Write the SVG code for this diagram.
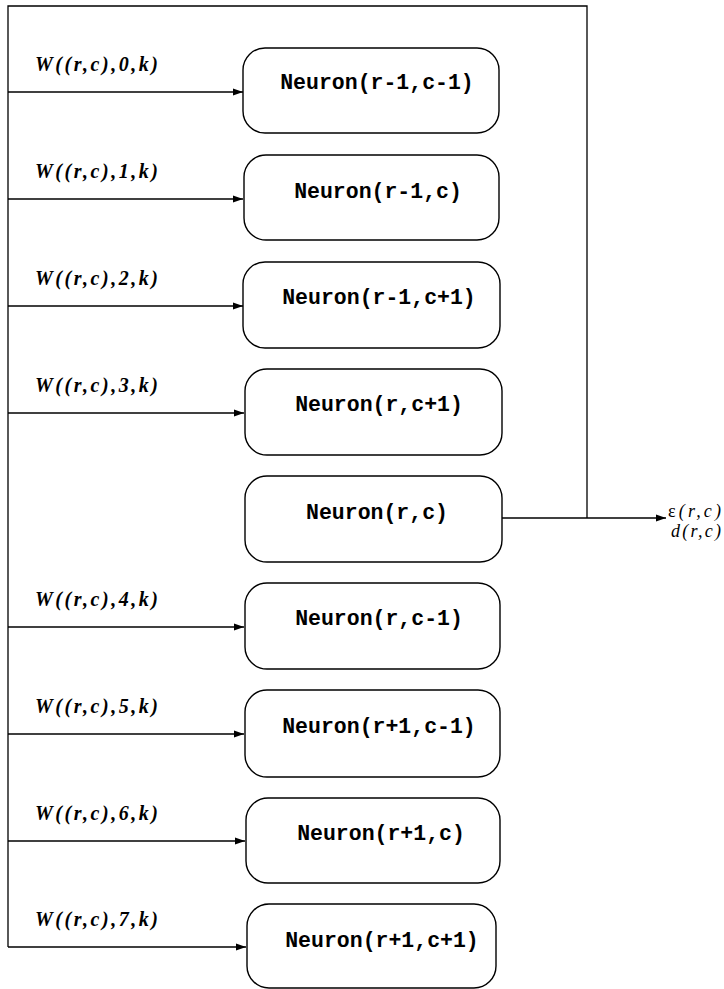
<svg xmlns="http://www.w3.org/2000/svg" width="724" height="989" viewBox="0 0 724 989">
  <style>
    .box { fill: #ffffff; stroke: #000000; stroke-width: 1.4; }
    .name { font-family: "Liberation Mono", "Courier New", monospace; font-weight: bold; font-size: 21.5px; fill: #000000; text-anchor: middle; }
    .wt { font-family: "Liberation Serif", "Times New Roman", serif; font-weight: bold; font-style: italic; font-size: 20px; fill: #000000; }
    .out { font-family: "Liberation Serif", "Times New Roman", serif; font-style: italic; font-size: 18px; fill: #000000; }
    .wire { fill: none; stroke: #000000; stroke-width: 1.3; }
  </style>
  <defs>
    <marker id="arrow" viewBox="0 0 10 8" refX="10" refY="4" markerWidth="10" markerHeight="8" markerUnits="userSpaceOnUse" orient="auto">
      <path d="M0,0.5 L10,4 L0,7.5 Z" fill="#000000"/>
    </marker>
  </defs>
  <rect width="724" height="989" fill="#ffffff"/>

  <!-- feedback bus and weighted inputs -->
  <g id="connectors">
    <path class="wire" d="M587,518 V6 H8 V947"/>
    <path class="wire" d="M8,92 H243" marker-end="url(#arrow)"/>
    <path class="wire" d="M8,199 H243" marker-end="url(#arrow)"/>
    <path class="wire" d="M8,306 H243" marker-end="url(#arrow)"/>
    <path class="wire" d="M8,413 H244" marker-end="url(#arrow)"/>
    <path class="wire" d="M8,627 H244" marker-end="url(#arrow)"/>
    <path class="wire" d="M8,734 H244" marker-end="url(#arrow)"/>
    <path class="wire" d="M8,841 H245" marker-end="url(#arrow)"/>
    <path class="wire" d="M8,947 H246" marker-end="url(#arrow)"/>
    <path class="wire" d="M502,518 H666" marker-end="url(#arrow)"/>
  </g>

  <!-- weight labels -->
  <g id="weights">
    <text class="wt" x="35" y="71" textLength="123" lengthAdjust="spacing">W((r,c),0,k)</text>
    <text class="wt" x="35" y="178" textLength="123" lengthAdjust="spacing">W((r,c),1,k)</text>
    <text class="wt" x="35" y="285" textLength="123" lengthAdjust="spacing">W((r,c),2,k)</text>
    <text class="wt" x="35" y="392" textLength="123" lengthAdjust="spacing">W((r,c),3,k)</text>
    <text class="wt" x="35" y="606" textLength="123" lengthAdjust="spacing">W((r,c),4,k)</text>
    <text class="wt" x="35" y="713" textLength="123" lengthAdjust="spacing">W((r,c),5,k)</text>
    <text class="wt" x="35" y="820" textLength="123" lengthAdjust="spacing">W((r,c),6,k)</text>
    <text class="wt" x="35" y="926" textLength="123" lengthAdjust="spacing">W((r,c),7,k)</text>
  </g>

  <g id="n-rm1-cm1">
    <rect class="box" x="243" y="48" width="256" height="85" rx="22" ry="22"/>
    <text class="name" x="377" y="89">Neuron(r-1,c-1)</text>
  </g>
  <g id="n-rm1-c">
    <rect class="box" x="244" y="155" width="255" height="85" rx="22" ry="22"/>
    <text class="name" x="378" y="198">Neuron(r-1,c)</text>
  </g>
  <g id="n-rm1-cp1">
    <rect class="box" x="243" y="262" width="257" height="86" rx="22" ry="22"/>
    <text class="name" x="379" y="304">Neuron(r-1,c+1)</text>
  </g>
  <g id="n-r-cp1">
    <rect class="box" x="245" y="369" width="257" height="86" rx="22" ry="22"/>
    <text class="name" x="379" y="411">Neuron(r,c+1)</text>
  </g>
  <g id="n-r-c">
    <rect class="box" x="245" y="476" width="257" height="86" rx="22" ry="22"/>
    <text class="name" x="377" y="519">Neuron(r,c)</text>
  </g>
  <g id="n-r-cm1">
    <rect class="box" x="245" y="583" width="255" height="86" rx="22" ry="22"/>
    <text class="name" x="379" y="625">Neuron(r,c-1)</text>
  </g>
  <g id="n-rp1-cm1">
    <rect class="box" x="245" y="690" width="255" height="87" rx="22" ry="22"/>
    <text class="name" x="379" y="733">Neuron(r+1,c-1)</text>
  </g>
  <g id="n-rp1-c">
    <rect class="box" x="246" y="798" width="254" height="85" rx="22" ry="22"/>
    <text class="name" x="381" y="840">Neuron(r+1,c)</text>
  </g>
  <g id="n-rp1-cp1">
    <rect class="box" x="247" y="904" width="249" height="84" rx="22" ry="22"/>
    <text class="name" x="382" y="947">Neuron(r+1,c+1)</text>
  </g>

  <!-- output signals -->
  <g id="outputs">
    <text class="out" x="668" y="517" textLength="53" lengthAdjust="spacing"><tspan font-style="normal">ε</tspan>(r,c)</text>
    <text class="out" x="671" y="537" textLength="50" lengthAdjust="spacing">d(r,c)</text>
  </g>
</svg>
